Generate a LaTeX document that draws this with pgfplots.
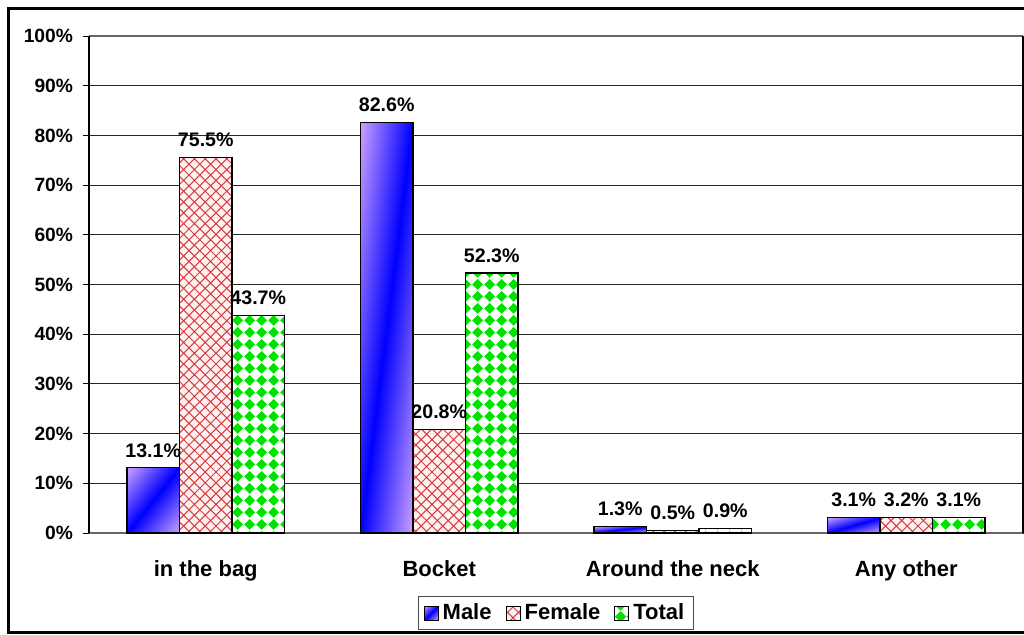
\documentclass[border=0pt]{standalone}
\usepackage{fontspec}
\setmainfont{Liberation Sans}
\usepackage{pgfplots}
\pgfplotsset{compat=1.18}
\usetikzlibrary{patterns}

\definecolor{femred}{RGB}{210,65,65}
\definecolor{fempink}{RGB}{255,240,242}
\definecolor{totgreen}{RGB}{0,225,0}

% blue band along the diagonal (bottom left to top right), violet towards
% the other two corners; the bar's box maps onto 25bp--75bp of the square
\pgfdeclarefunctionalshading{maleshade}{\pgfpoint{0bp}{0bp}}{\pgfpoint{100bp}{100bp}}{}{%
  sub abs 50 div dup 1 gt {pop 1} if
  dup 0.80 mul exch 0.63 mul 1}

% diagonal cross hatch for the Female bars
\pgfdeclarepatternformonly{xhatch}{\pgfqpoint{-0.5pt}{-0.5pt}}{\pgfqpoint{5.9pt}{5.9pt}}{\pgfqpoint{5.4pt}{5.4pt}}{%
  \pgfsetlinewidth{0.5pt}%
  \pgfpathmoveto{\pgfqpoint{-0.2pt}{-0.2pt}}\pgfpathlineto{\pgfqpoint{5.6pt}{5.6pt}}%
  \pgfpathmoveto{\pgfqpoint{-0.2pt}{5.6pt}}\pgfpathlineto{\pgfqpoint{5.6pt}{-0.2pt}}%
  \pgfusepath{stroke}}

% diamond checker for the Total bars
\pgfdeclarepatternformonly{diamonds}{\pgfqpoint{0pt}{0pt}}{\pgfqpoint{5.8pt}{5.8pt}}{\pgfqpoint{5.8pt}{5.8pt}}{%
  \pgfpathmoveto{\pgfqpoint{2.9pt}{0.1pt}}%
  \pgfpathlineto{\pgfqpoint{5.7pt}{2.9pt}}%
  \pgfpathlineto{\pgfqpoint{2.9pt}{5.7pt}}%
  \pgfpathlineto{\pgfqpoint{0.1pt}{2.9pt}}%
  \pgfpathclose
  \pgfusepath{fill}}

\tikzset{
  malebar/.style={draw=black, line width=0.6pt, shade, shading=maleshade,
    shading angle=0},
  fembar/.style={draw=black, line width=0.6pt, fill=fempink,
    postaction={pattern=xhatch, pattern color=femred}},
  totbar/.style={draw=black, line width=0.6pt, fill=white,
    postaction={pattern=diamonds, pattern color=totgreen}},
}

\begin{document}
\begin{tikzpicture}
\useasboundingbox (-44.5pt,-50.5pt) rectangle (467.5pt,266.5pt);
\begin{axis}[
  at={(0,0)}, anchor=south west,
  scale only axis,
  width=467pt, height=248.5pt,
  ybar, bar width=0.225,
  xmin=-0.5, xmax=3.5,
  ymin=0, ymax=100,
  ytick={0,10,...,100},
  yticklabels={0\%,10\%,20\%,30\%,40\%,50\%,60\%,70\%,80\%,90\%,100\%},
  xtick={0,1,2,3},
  xticklabels={in the bag, Bocket, Around the neck, Any other},
  x tick style={draw=none},
  extra x ticks={-0.5,0.5,1.5,2.5,3.5},
  extra x tick labels={},
  extra x tick style={grid=none, major tick length=3pt,
    tick style={draw=black, line width=0.5pt}},
  tick align=outside,
  major tick length=3pt,
  y tick style={draw=black, line width=0.5pt},
  ymajorgrids,
  grid style={draw=black!85, line width=0.5pt},
  axis line style={draw=black!60, line width=0.5pt},
  separate axis lines,
  y axis line style={draw=black, line width=0.6pt},
  x axis line style={draw=black!60, line width=0.8pt},
  /pgf/number format/assume math mode=true,
  yticklabel style={font=\bfseries\fontsize{9.6}{11}\selectfont, xshift=-1.5pt},
  xticklabel style={font=\bfseries\fontsize{11}{13}\selectfont, yshift=-7pt},
  nodes near coords={\pgfmathprintnumber[fixed,fixed zerofill,precision=1]{\pgfplotspointmeta}\%},
  nodes near coords style={font=\bfseries\fontsize{9.8}{11}\selectfont, anchor=south, inner sep=2.5pt, yshift=2.5pt},
  legend columns=3,
  legend style={at={(0.5,-0.161)}, anchor=center, draw=black!70, line width=0.6pt,
    font=\bfseries\fontsize{11}{13}\selectfont,
    inner xsep=2.5pt, inner ysep=1.5pt,
    /tikz/every even column/.append style={column sep=5pt}},
  legend image code/.code={\draw[#1, line width=0.5pt] (0pt,-3.5pt) rectangle (7pt,3.5pt);},
  clip=false,
]
% Male: one bar per plot so that each bar gets its own diagonal shading
\addplot[malebar, bar shift=-0.225] coordinates {(0,13.1)};
\addlegendentry{Male}
\addplot[malebar, bar shift=-0.225, forget plot] coordinates {(1,82.6)};
\addplot[malebar, bar shift=-0.225, forget plot] coordinates {(2,1.3)};
\addplot[malebar, bar shift=-0.225, forget plot] coordinates {(3,3.1)};
% Female
\addplot[fembar, bar shift=0] coordinates {(0,75.5) (1,20.8) (2,0.5) (3,3.2)};
\addlegendentry{Female}
% Total
\addplot[totbar, bar shift=0.225] coordinates {(0,43.7) (1,52.3) (2,0.9) (3,3.1)};
\addlegendentry{Total}
\end{axis}
% outer chart frame
\draw[black, line width=1.5pt] (470.5pt,262.5pt) -- (-40pt,262.5pt) -- (-40pt,-49.75pt) -- (470.5pt,-49.75pt);
\end{tikzpicture}
\end{document}
